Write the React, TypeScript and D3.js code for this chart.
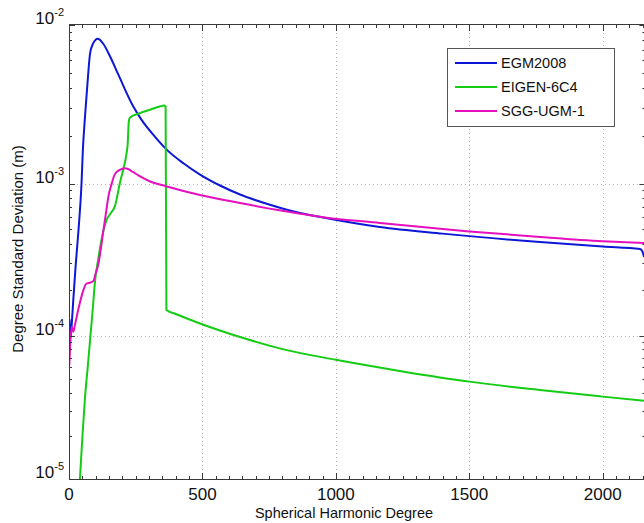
import React from 'react'
import * as d3 from 'd3'

// EGM2008 degree standard deviation
const egmDegrees = [2, 4, 6, 10, 16, 25, 35, 47, 52, 60, 70, 79, 91, 100, 107, 115, 129, 154, 185, 241, 272, 320, 367, 430, 491, 566, 641, 750, 850, 952, 1165, 1400, 1765, 2000, 2140, 2148, 2155]
const egmValues = [1.28e-4, 1.0e-4, 9.6e-5, 1.17e-4, 1.71e-4, 2.89e-4, 4.78e-4, 1.01e-3, 1.63e-3, 2.65e-3, 4.46e-3, 6.62e-3, 7.69e-3, 8.08e-3, 8.18e-3, 8.08e-3, 7.59e-3, 6.33e-3, 4.86e-3, 3.06e-3, 2.52e-3, 1.99e-3, 1.63e-3, 1.337e-3, 1.139e-3, 9.7e-4, 8.46e-4, 7.27e-4, 6.49e-4, 5.97e-4, 5.17e-4, 4.68e-4, 4.12e-4, 3.85e-4, 3.71e-4, 3.6e-4, 3.28e-4]

// EIGEN-6C4
const eigenDegrees = [36, 41, 50, 60, 70, 79, 90, 97, 110, 129, 141, 155, 172, 191, 205, 215, 220, 224, 228, 260, 300, 340, 355, 362, 365, 400, 491, 641, 800, 1000, 1250, 1500, 1765, 2000, 2160]
const eigenValues = [7e-6, 1.0e-5, 1.94e-5, 3.7e-5, 5.96e-5, 9.33e-5, 1.56e-4, 2.23e-4, 3.22e-4, 4.89e-4, 5.77e-4, 6.33e-4, 7.1e-4, 1.01e-3, 1.26e-3, 1.52e-3, 1.78e-3, 2.45e-3, 2.6e-3, 2.76e-3, 2.91e-3, 3.06e-3, 3.11e-3, 3.06e-3, 1.47e-4, 1.385e-4, 1.2e-4, 9.76e-5, 8.04e-5, 6.77e-5, 5.62e-5, 4.77e-5, 4.17e-5, 3.75e-5, 3.5e-5]

// SGG-UGM-1
const sggDegrees = [1, 4, 10, 16, 22, 35, 54, 65, 80, 91, 100, 110, 120, 129, 140, 147, 160, 172, 190, 210, 228, 236, 241, 260, 300, 367, 491, 641, 800, 952, 1165, 1500, 1765, 2000, 2160]
const sggValues = [6.19e-5, 8.28e-5, 1.14e-4, 1.06e-4, 1.17e-4, 1.49e-4, 1.99e-4, 2.19e-4, 2.23e-4, 2.28e-4, 2.56e-4, 2.95e-4, 3.78e-4, 4.94e-4, 6.66e-4, 8.1e-4, 9.98e-4, 1.146e-3, 1.22e-3, 1.25e-3, 1.22e-3, 1.19e-3, 1.178e-3, 1.125e-3, 1.037e-3, 9.56e-4, 8.4e-4, 7.44e-4, 6.61e-4, 6.0e-4, 5.5e-4, 4.84e-4, 4.45e-4, 4.17e-4, 4.05e-4]

const seriesNames = ['EGM2008', 'EIGEN-6C4', 'SGG-UGM-1']
const seriesColors = ['#0d17d6', '#14cc14', '#e60fbe']
const xTickValues = [0, 500, 1000, 1500, 2000]
const yTickExponents = [-2, -3, -4, -5]

const font = '"Liberation Sans", Arial, sans-serif'

function App() {
  const W = 644, H = 523
  const left = 69, right = 645.4, top = 25, bottom = 479

  const x = d3.scaleLinear().domain([0, 2160]).range([left, right])
  // decades as they sit in the source figure
  const y = d3.scaleLog().domain([1e-5, 1e-4, 1e-3, 1e-2]).range([bottom, 335.5, 183.5, top])

  const series = [
    d3.zip(egmDegrees, egmValues),
    d3.zip(eigenDegrees, eigenValues),
    d3.zip(sggDegrees, sggValues),
  ] as [number, number][][]

  const line = d3.line<[number, number]>()
    .x(d => x(d[0]))
    .y(d => y(d[1]))
    .curve(d3.curveMonotoneX)

  const xMinor = d3.range(50, 2160, 50).filter(v => v % 500 !== 0)
  const yMinor: number[] = []
  ;[-5, -4, -3].forEach(e => { for (let k = 2; k <= 9; k++) yMinor.push(k * Math.pow(10, e)) })

  const axisColor = '#3a3a3a'
  const grid = '#b4b4b4'
  const px = (v: number) => Math.round(v) + 0.5

  return (
    <svg width={W} height={H} style={{ position: 'absolute', left: 0, top: 0, background: '#fff' }} fontFamily={font}>
      <defs>
        <clipPath id="plotClip">
          <rect x={left} y={top} width={right - left} height={bottom - top} />
        </clipPath>
      </defs>

      {/* grid */}
      {xTickValues.filter(v => v > 0).map(v => (
        <line key={'gx' + v} x1={px(x(v))} x2={px(x(v))} y1={top} y2={bottom}
          stroke={grid} strokeDasharray="1,3" />
      ))}
      {yTickExponents.slice(1, 3).map(e => (
        <line key={'gy' + e} x1={left} x2={right} y1={px(y(Math.pow(10, e)))} y2={px(y(Math.pow(10, e)))}
          stroke={grid} strokeDasharray="1,3" />
      ))}

      {/* data */}
      <g clipPath="url(#plotClip)" fill="none" strokeWidth={2} strokeLinejoin="round">
        {series.map((s, i) => (
          <path key={seriesNames[i]} d={line(s) || ''} stroke={seriesColors[i]} />
        ))}
      </g>

      {/* box + ticks */}
      <g stroke={axisColor} strokeWidth={1}>
        <line x1={left + 0.5} x2={left + 0.5} y1={top} y2={bottom} />
        <line x1={left} x2={right} y1={bottom + 0.5} y2={bottom + 0.5} />
        <line x1={left} x2={right} y1={top - 0.5} y2={top - 0.5} />
        <line x1={right} x2={right} y1={top} y2={bottom} />
        {xTickValues.map(v => (
          <g key={'xt' + v}>
            <line x1={px(x(v))} x2={px(x(v))} y1={bottom} y2={bottom - 6} />
            <line x1={px(x(v))} x2={px(x(v))} y1={top} y2={top + 6} />
          </g>
        ))}
        {xMinor.map(v => (
          <g key={'xm' + v}>
            <line x1={px(x(v))} x2={px(x(v))} y1={bottom} y2={bottom - 3} />
            <line x1={px(x(v))} x2={px(x(v))} y1={top} y2={top + 3} />
          </g>
        ))}
        {yTickExponents.map(e => {
          const yy = px(y(Math.pow(10, e)))
          return (
            <g key={'yt' + e}>
              <line x1={left} x2={left + 6} y1={yy} y2={yy} />
              <line x1={right} x2={right - 6} y1={yy} y2={yy} />
            </g>
          )
        })}
        {yMinor.map(v => {
          const yy = px(y(v))
          return (
            <g key={'ym' + v}>
              <line x1={left} x2={left + 3} y1={yy} y2={yy} />
              <line x1={right} x2={right - 3} y1={yy} y2={yy} />
            </g>
          )
        })}
      </g>

      {/* tick labels */}
      {xTickValues.map(v => (
        <text key={'xl' + v} x={x(v)} y={500} textAnchor="middle" fontSize={17} fill="#111">{v}</text>
      ))}
      {yTickExponents.map(e => (
        <text key={'yl' + e} x={64} y={y(Math.pow(10, e)) - 1} textAnchor="end" fill="#111">
          <tspan fontSize={17}>10</tspan>
          <tspan fontSize={11} dy={-8}>{e}</tspan>
        </text>
      ))}

      {/* axis titles */}
      <text x={344} y={518} textAnchor="middle" fontSize={14.5} fill="#111">Spherical Harmonic Degree</text>
      <text transform={`translate(23, 249) rotate(-90)`} textAnchor="middle" fontSize={15} fill="#111">
        Degree Standard Deviation (m)
      </text>

      {/* legend */}
      <g>
        <rect x={447.5} y={48.5} width={167} height={78} fill="#fff" stroke="#555" />
        {seriesNames.map((name, i) => {
          const ly = 63 + i * 24
          return (
            <g key={'lg' + name}>
              <line x1={455} x2={497} y1={ly} y2={ly} stroke={seriesColors[i]} strokeWidth={2} />
              <text x={501} y={ly + 5} fontSize={14.5} fill="#111">{name}</text>
            </g>
          )
        })}
      </g>
    </svg>
  )
}

export default App
